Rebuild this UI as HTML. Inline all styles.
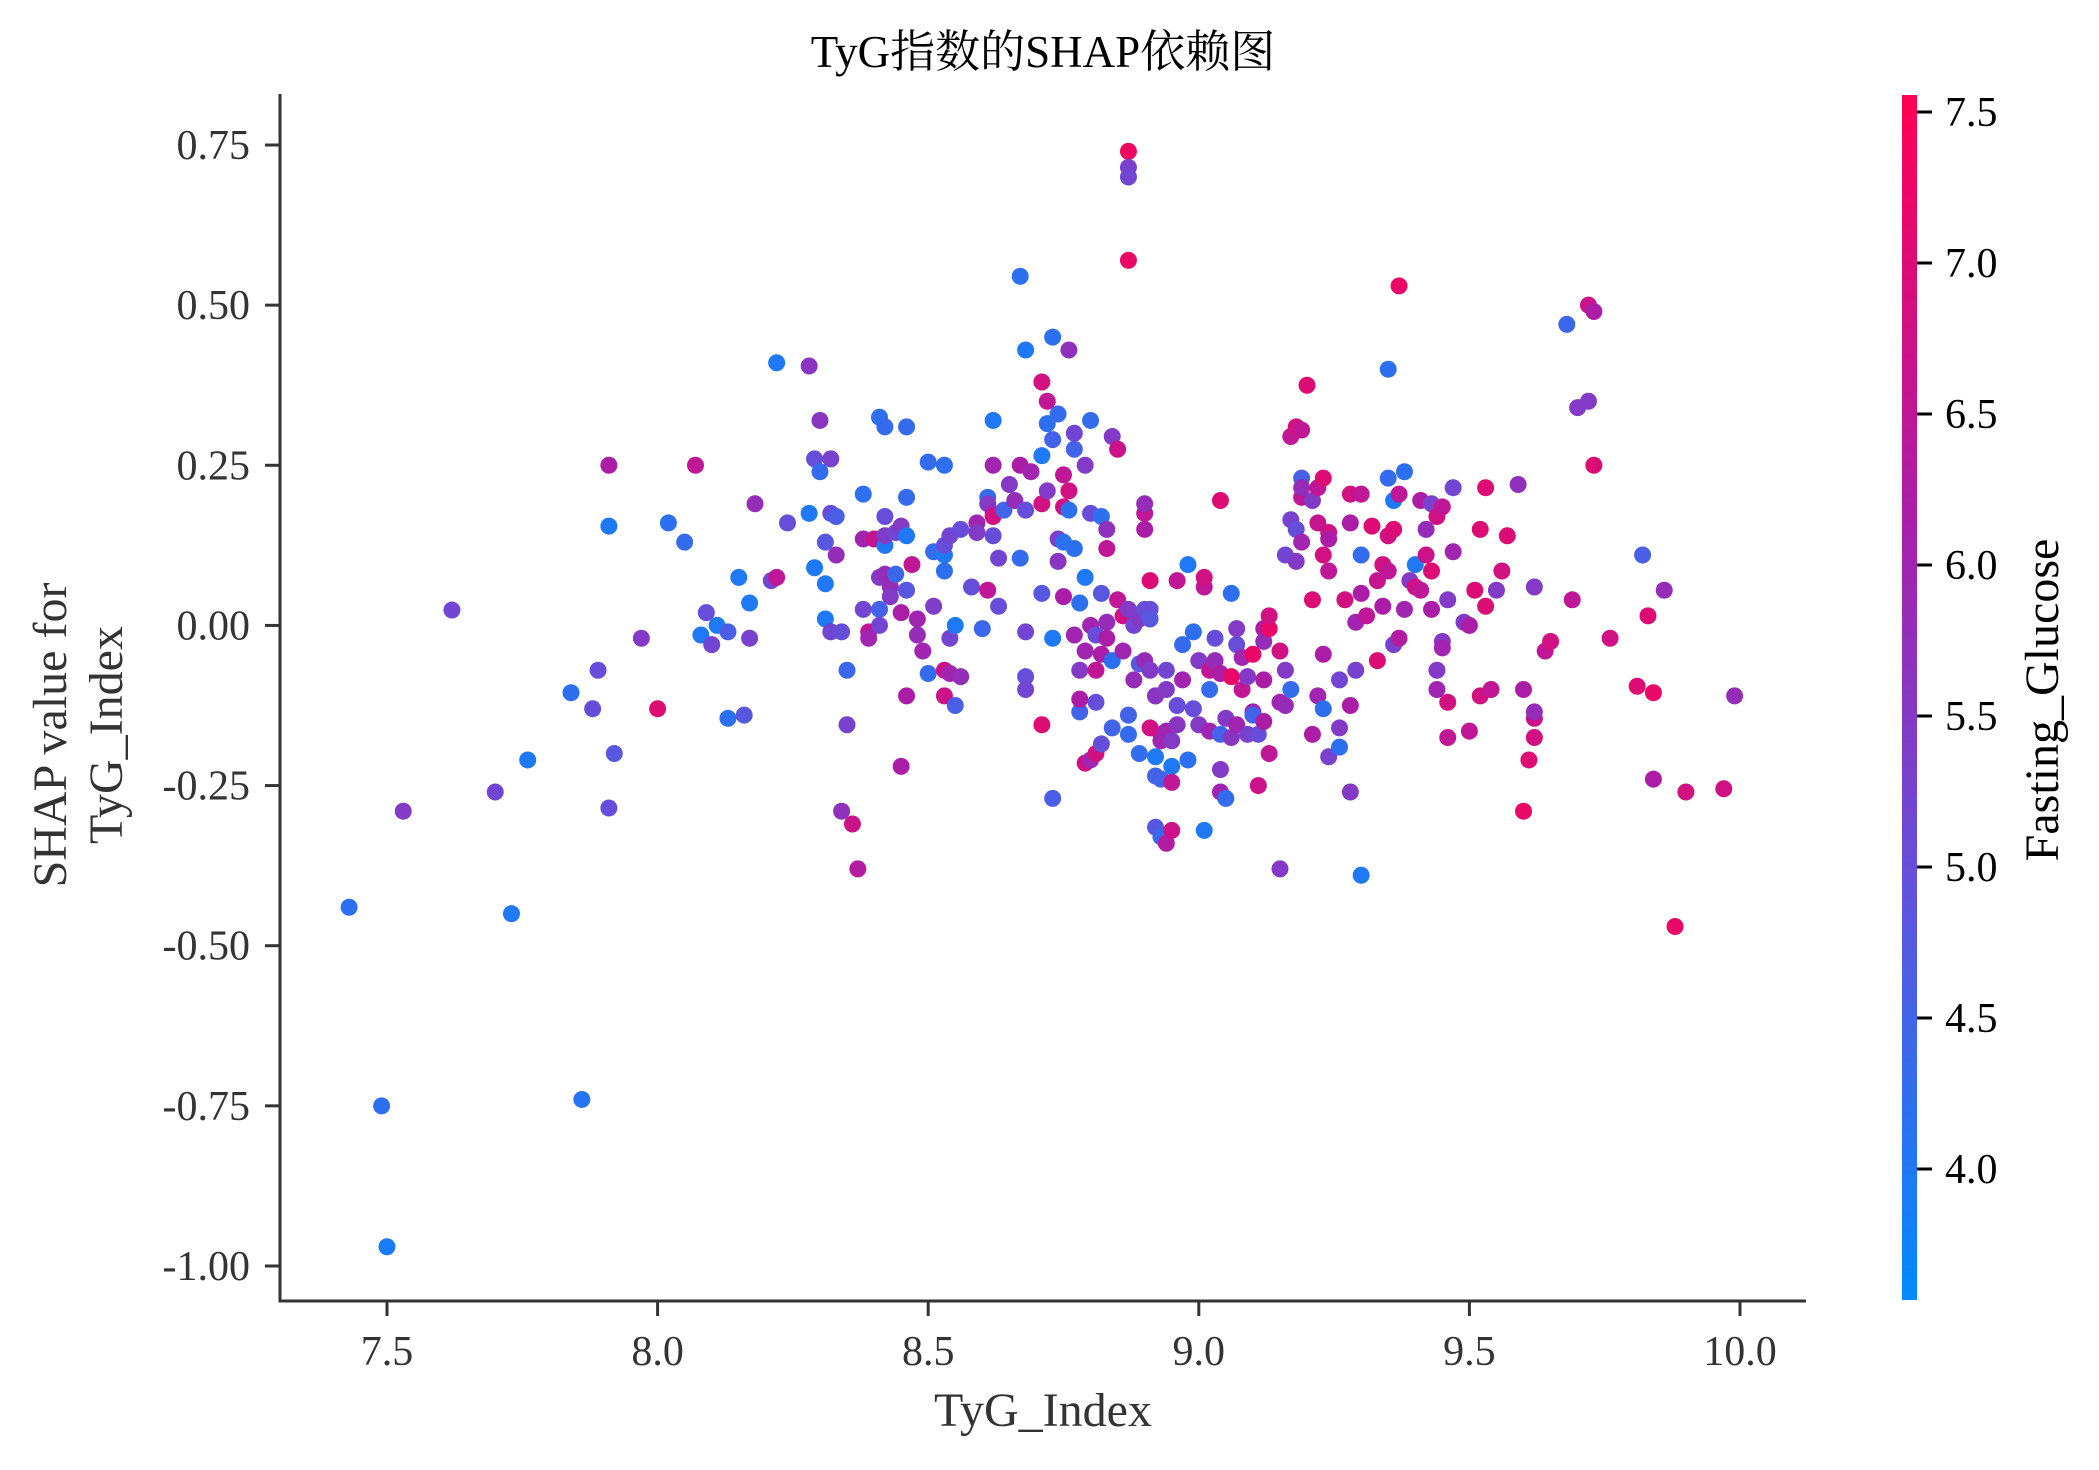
<!DOCTYPE html>
<html><head><meta charset="utf-8">
<style>
html,body{margin:0;padding:0;background:#fff;}
svg{display:block;font-family:"Liberation Serif","Noto Serif CJK SC",serif;}
</style></head>
<body>
<svg id="chart" width="2099" height="1470" viewBox="0 0 2099 1470" xmlns="http://www.w3.org/2000/svg">
<defs>
<linearGradient id="cbgrad" x1="0" y1="1" x2="0" y2="0">
<stop offset="0" stop-color="rgb(0,138,255)"/>
<stop offset="0.35" stop-color="rgb(100,80,220)"/>
<stop offset="0.65" stop-color="rgb(170,30,170)"/>
<stop offset="1" stop-color="rgb(255,0,82)"/>
</linearGradient>
</defs>
<text x="1043" y="67" font-size="45" text-anchor="middle" fill="#000">TyG指数的SHAP依赖图</text>
<g id="points"></g>
<g id="axes"></g>
<text x="1043" y="1426" font-size="48" text-anchor="middle" fill="#333">TyG_Index</text>
<text transform="translate(66,735) rotate(-90)" font-size="48" text-anchor="middle" fill="#333"><tspan x="0" dy="0">SHAP value for</tspan><tspan x="0" dy="56">TyG_Index</tspan></text>
<rect x="1902" y="95" width="15" height="1205" fill="url(#cbgrad)"/>
<g id="cbticks"></g>
<text transform="translate(2058,700) rotate(-90)" font-size="48" text-anchor="middle" fill="#000">Fasting_Glucose</text>
</svg>
<script>
const xs=[7.43,7.49,7.50,7.53,7.62,7.70,7.73,7.76,7.84,7.86,7.88,7.89,7.91,7.91,7.91,7.92,7.97,8.0,8.02,8.05,8.07,8.08,8.09,8.10,8.11,8.13,8.13,8.15,8.16,8.17,8.17,8.18,8.21,8.22,8.22,8.24,8.28,8.28,8.29,8.29,8.30,8.30,8.31,8.31,8.31,8.32,8.32,8.32,8.33,8.33,8.34,8.34,8.35,8.35,8.36,8.37,8.38,8.38,8.38,8.39,8.39,8.40,8.41,8.41,8.41,8.41,8.42,8.42,8.42,8.42,8.42,8.43,8.43,8.44,8.44,8.45,8.45,8.45,8.46,8.46,8.46,8.46,8.46,8.47,8.48,8.48,8.49,8.50,8.50,8.51,8.51,8.53,8.53,8.53,8.53,8.53,8.53,8.54,8.54,8.54,8.55,8.55,8.56,8.56,8.58,8.59,8.59,8.60,8.61,8.61,8.61,8.62,8.62,8.62,8.62,8.62,8.63,8.63,8.64,8.65,8.66,8.67,8.67,8.67,8.68,8.68,8.68,8.68,8.68,8.69,8.71,8.71,8.71,8.71,8.71,8.72,8.72,8.72,8.73,8.73,8.73,8.73,8.74,8.74,8.74,8.75,8.75,8.75,8.75,8.76,8.76,8.76,8.77,8.77,8.77,8.77,8.78,8.78,8.78,8.78,8.79,8.79,8.79,8.79,8.80,8.80,8.80,8.80,8.81,8.81,8.81,8.81,8.82,8.82,8.82,8.82,8.83,8.83,8.83,8.83,8.84,8.84,8.84,8.85,8.85,8.87,8.87,8.87,8.87,8.86,8.86,8.87,8.87,8.87,8.88,8.88,8.89,8.89,8.89,8.90,8.90,8.90,8.90,8.90,8.91,8.91,8.91,8.91,8.91,8.92,8.92,8.92,8.92,8.92,8.93,8.93,8.93,8.93,8.94,8.94,8.94,8.94,8.95,8.95,8.95,8.95,8.96,8.96,8.96,8.97,8.97,8.98,8.98,8.99,8.99,9.0,9.0,9.01,9.01,9.01,9.02,9.02,9.02,9.03,9.03,9.04,9.04,9.04,9.04,9.04,9.05,9.05,9.06,9.06,9.06,9.07,9.07,9.07,9.08,9.08,9.09,9.09,9.10,9.10,9.10,9.11,9.11,9.12,9.12,9.12,9.12,9.13,9.13,9.13,9.15,9.15,9.15,9.16,9.16,9.16,9.17,9.17,9.17,9.18,9.18,9.18,9.19,9.19,9.19,9.19,9.19,9.20,9.21,9.21,9.21,9.22,9.22,9.22,9.23,9.23,9.23,9.23,9.24,9.24,9.24,9.24,9.26,9.26,9.26,9.27,9.28,9.28,9.28,9.28,9.29,9.29,9.30,9.30,9.30,9.30,9.31,9.32,9.33,9.33,9.34,9.34,9.35,9.35,9.35,9.35,9.36,9.36,9.36,9.37,9.37,9.37,9.38,9.38,9.39,9.40,9.40,9.41,9.41,9.42,9.42,9.43,9.43,9.43,9.44,9.44,9.44,9.45,9.45,9.45,9.46,9.46,9.46,9.47,9.47,9.49,9.50,9.50,9.51,9.52,9.52,9.53,9.53,9.54,9.55,9.56,9.57,9.59,9.60,9.60,9.61,9.62,9.62,9.62,9.62,9.64,9.65,9.68,9.69,9.70,9.72,9.72,9.73,9.73,9.76,9.81,9.82,9.83,9.84,9.84,9.86,9.88,9.90,9.97,9.99];
const ys=[-0.44,-0.75,-0.97,-0.29,0.024,-0.26,-0.45,-0.21,-0.105,-0.74,-0.13,-0.07,-0.285,0.155,0.25,-0.2,-0.02,-0.13,0.16,0.13,0.25,-0.015,0.02,-0.03,0.0,-0.145,-0.01,0.075,-0.14,-0.02,0.035,0.19,0.07,0.41,0.075,0.16,0.405,0.175,0.09,0.26,0.24,0.32,0.13,0.065,0.01,0.26,0.175,-0.01,0.17,0.11,-0.01,-0.29,-0.07,-0.155,-0.31,-0.38,0.205,0.135,0.025,-0.01,-0.02,0.135,0.325,0.025,0.075,0.0,0.31,0.125,0.17,0.14,0.08,0.06,0.045,0.145,0.08,0.155,0.02,-0.22,0.31,0.055,0.14,0.2,-0.11,0.095,0.01,-0.015,-0.04,0.255,-0.075,0.115,0.03,0.25,0.11,0.085,-0.07,-0.11,0.125,-0.02,-0.075,0.14,0.0,-0.125,0.15,-0.08,0.06,0.16,0.145,-0.005,0.2,0.19,0.055,0.175,0.14,0.17,0.25,0.32,0.03,0.105,0.18,0.22,0.195,0.545,0.25,0.105,-0.01,0.43,0.18,-0.08,-0.1,0.24,-0.155,0.05,0.19,0.265,0.38,0.315,0.35,0.21,-0.02,0.45,-0.27,0.29,0.135,0.33,0.1,0.185,0.045,0.13,0.235,0.43,0.21,0.18,0.275,0.12,0.3,-0.015,-0.135,0.035,-0.07,-0.115,-0.04,-0.215,0.25,0.075,0.175,0.32,0.0,-0.21,-0.07,-0.015,-0.12,-0.2,0.17,-0.185,0.05,-0.045,0.15,0.12,0.005,-0.02,0.295,-0.16,-0.055,0.04,0.275,0.74,0.715,0.57,0.7,0.015,-0.04,-0.14,-0.17,0.025,0.0,-0.085,-0.2,-0.06,0.01,0.175,-0.055,0.15,0.025,0.19,-0.07,0.025,0.07,0.01,-0.16,-0.11,-0.11,-0.205,-0.235,-0.315,-0.17,-0.33,-0.24,-0.18,-0.07,-0.1,-0.165,-0.34,-0.22,-0.32,-0.245,-0.18,-0.125,-0.155,0.07,-0.085,-0.03,-0.21,0.095,-0.13,-0.01,-0.155,-0.055,-0.32,0.06,0.075,-0.07,-0.1,-0.165,-0.055,-0.02,-0.075,-0.17,0.195,-0.26,-0.225,-0.27,-0.145,0.05,-0.08,-0.175,-0.005,-0.03,-0.155,-0.1,-0.05,-0.17,-0.08,-0.135,-0.045,-0.14,-0.25,-0.17,-0.085,-0.005,-0.025,-0.15,-0.2,-0.005,0.015,-0.38,-0.12,-0.04,-0.07,-0.125,0.11,-0.1,0.295,0.165,0.15,0.31,0.1,0.23,0.2,0.13,0.305,0.215,0.375,0.195,-0.17,0.04,-0.11,0.215,0.16,0.11,-0.045,0.23,-0.13,-0.205,0.085,0.145,0.135,-0.19,-0.16,-0.085,0.04,-0.26,-0.125,0.205,0.16,0.005,-0.07,-0.39,0.05,0.11,0.205,0.015,0.155,-0.055,0.07,0.095,0.03,0.14,0.4,0.23,0.085,-0.03,0.15,0.195,0.53,0.205,-0.02,0.025,0.24,0.07,0.095,0.06,0.195,0.055,0.15,0.11,0.19,0.025,0.085,-0.07,0.17,-0.1,-0.025,-0.035,0.185,-0.175,-0.12,0.04,0.215,0.115,0.005,-0.165,0.0,0.055,0.15,-0.11,0.215,0.03,-0.1,0.055,0.085,0.14,0.22,-0.1,-0.29,-0.21,-0.175,-0.145,-0.135,0.06,-0.04,-0.025,0.47,0.04,0.34,0.5,0.35,0.25,0.49,-0.02,-0.095,0.11,0.015,-0.105,-0.24,0.055,-0.47,-0.26,-0.255,-0.11];
const gs=[4.2,4.2,3.9,5.5,5.2,5.2,4.0,4.0,4.2,4.1,5.0,5.0,5.0,4.0,6.2,4.8,5.5,7.0,4.2,4.3,6.5,4.0,5.0,5.2,4.0,4.2,4.6,4.0,4.8,5.3,4.0,5.8,5.2,4.0,6.5,5.0,5.6,4.0,4.0,5.0,4.3,5.6,4.8,4.0,4.0,5.3,5.0,5.2,4.6,5.8,5.0,5.7,4.4,5.3,6.7,6.3,4.2,6.0,5.2,6.5,6.0,6.6,4.2,4.5,5.5,5.2,4.3,4.0,5.0,5.4,5.8,5.8,5.5,5.2,4.4,5.5,6.2,6.2,4.3,4.8,4.0,4.3,6.2,6.5,6.0,5.8,6.0,4.3,4.3,4.3,5.4,4.2,4.0,4.2,6.7,6.7,5.0,5.2,6.0,5.2,4.0,4.6,5.0,5.8,5.0,6.0,5.5,4.4,4.3,5.5,6.5,6.0,5.0,6.8,6.0,4.0,5.0,5.2,4.5,5.5,5.8,4.2,6.2,4.3,5.2,4.0,5.0,5.0,5.2,6.0,7.0,4.8,6.8,4.0,6.8,4.2,6.5,5.5,4.0,4.2,4.6,4.5,5.4,4.3,5.6,6.8,6.2,4.2,6.5,5.7,6.8,4.2,4.5,4.2,5.2,6.0,4.5,4.2,5.5,6.2,6.0,6.8,5.5,4.0,5.0,4.3,6.0,6.0,6.5,5.0,5.0,6.8,4.2,5.0,4.8,6.2,5.7,6.5,5.8,6.2,5.5,4.5,4.2,6.5,6.7,7.3,5.3,7.2,5.2,6.8,6.0,4.5,4.3,5.5,5.2,5.8,4.3,4.8,5.5,6.5,5.8,6.2,5.0,5.8,5.5,5.0,7.0,4.8,6.8,6.2,5.6,4.0,4.5,4.8,6.8,4.3,4.5,6.0,5.2,5.5,6.0,6.3,4.0,6.7,6.5,5.5,5.0,5.6,6.5,6.0,4.3,4.2,4.0,5.0,4.2,5.5,5.5,4.0,6.5,6.8,6.5,4.3,6.0,5.8,5.0,6.2,4.5,7.0,6.0,5.5,4.3,5.5,4.2,7.2,5.6,5.5,5.0,6.0,6.5,6.0,5.3,5.5,6.0,7.2,4.5,6.7,5.0,6.2,6.2,5.8,6.2,6.5,7.2,6.8,5.5,6.0,6.8,5.5,5.8,5.2,4.3,6.5,5.3,5.0,6.8,5.5,4.6,6.5,6.0,6.5,5.8,7.0,5.5,6.2,7.0,6.0,6.5,6.6,6.8,6.2,7.0,4.2,5.3,6.5,6.8,6.2,4.2,5.5,5.2,6.8,5.5,6.2,6.8,6.2,6.0,5.3,4.0,6.2,4.3,6.5,6.5,7.0,7.0,6.6,6.8,6.2,6.8,4.2,4.3,6.5,5.3,7.0,4.0,7.2,6.5,6.3,6.0,4.2,5.5,4.0,6.8,6.2,6.5,5.8,6.7,5.3,6.2,7.0,5.5,6.8,6.0,5.5,6.0,6.5,6.5,6.8,5.5,5.2,6.0,5.5,6.5,6.2,7.0,7.0,6.8,7.0,7.0,6.5,5.5,6.8,7.0,5.7,6.2,7.2,7.0,6.8,6.7,5.8,5.5,6.5,6.8,4.4,6.5,5.5,6.7,5.5,7.0,6.2,6.8,7.0,4.6,7.0,7.2,6.2,5.8,7.2,6.8,6.8,5.8];
const xTicks=[7.5,8.0,8.5,9.0,9.5,10.0];
const xTickLabels=["7.5","8.0","8.5","9.0","9.5","10.0"];
const yTicks=[0.75,0.5,0.25,0,-0.25,-0.5,-0.75,-1.0];
const yTickLabels=["0.75","0.50","0.25","0.00","-0.25","-0.50","-0.75","-1.00"];
const cTicks=[4.0,4.5,5.0,5.5,6.0,6.5,7.0,7.5];
const cTickLabels=["4.0","4.5","5.0","5.5","6.0","6.5","7.0","7.5"];
const cMin=3.566, cMax=7.556;

const NS="http://www.w3.org/2000/svg";
function X(v){return 387+(v-7.5)*(1740-387)/2.5;}
function Y(v){return 145+(0.75-v)*(1266-145)/1.75;}
function CY(v){return 112+(7.5-v)*302;}
const stops=[[0,[0,138,255]],[0.35,[100,80,220]],[0.65,[170,30,170]],[1,[255,0,82]]];
function col(g){
  let t=Math.max(0,Math.min(1,(g-cMin)/(cMax-cMin)));
  for(let i=0;i<stops.length-1;i++){
    const a=stops[i],b=stops[i+1];
    if(t<=b[0]){const f=(t-a[0])/(b[0]-a[0]);
      return "rgb("+a[1].map((c,k)=>Math.round(c+(b[1][k]-c)*f)).join(",")+")";}
  }
  return "rgb(255,0,82)";
}
function mk(tag,attrs,parent){const e=document.createElementNS(NS,tag);for(const k in attrs)e.setAttribute(k,attrs[k]);parent.appendChild(e);return e;}

const pts=document.getElementById("points");
for(let i=0;i<xs.length;i++){
  const c=mk("circle",{cx:X(xs[i]),cy:Y(ys[i]),r:8.5,fill:col(gs[i])},pts);
  
  
}
const ax=document.getElementById("axes");
const sp1=mk("line",{x1:280,y1:94,x2:280,y2:1302,stroke:"#333","stroke-width":3},ax);


const sp2=mk("line",{x1:278.5,y1:1301,x2:1806,y2:1301,stroke:"#333","stroke-width":3},ax);


xTicks.forEach((v,i)=>{
  const t=mk("line",{x1:X(v),y1:1302,x2:X(v),y2:1316,stroke:"#333","stroke-width":3},ax);
  
  
  const l=mk("text",{x:X(v),y:1365,"font-size":42,"text-anchor":"middle",fill:"#333"},ax);
  l.textContent=xTickLabels[i];
  
  
});
yTicks.forEach((v,i)=>{
  const t=mk("line",{x1:265,y1:Y(v),x2:280,y2:Y(v),stroke:"#333","stroke-width":3},ax);
  
  
  const l=mk("text",{x:250,y:Y(v)+14,"font-size":42,"text-anchor":"end",fill:"#333"},ax);
  l.textContent=yTickLabels[i];
  
  
});
const cb=document.getElementById("cbticks");
cTicks.forEach((v,i)=>{
  const t=mk("line",{x1:1917,y1:CY(v),x2:1932,y2:CY(v),stroke:"#000","stroke-width":3},cb);
  
  
  const l=mk("text",{x:1945,y:CY(v)+14,"font-size":42,fill:"#000"},cb);
  l.textContent=cTickLabels[i];
  
  
});
</script>
</body></html>
